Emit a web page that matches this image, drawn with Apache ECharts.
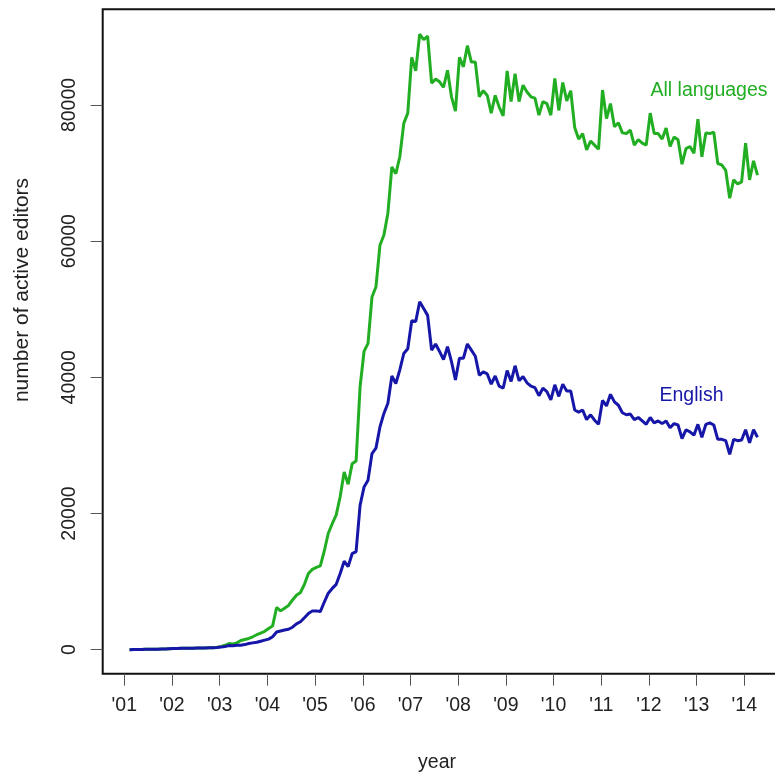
<!DOCTYPE html>
<html><head><meta charset="utf-8">
<script src="https://cdn.jsdelivr.net/npm/echarts@6/dist/echarts.min.js"></script>
<style>html,body{margin:0;padding:0;background:#fff;overflow:hidden}#c{width:800px;height:776px}</style>
</head><body><div id="c"></div>
<script>
// Monthly series, first observation at this decimal year, one point per month
const startYear = 2001.11;
const allLanguages = [
  10,20,30,40,50,60,70,80,100,120,140,160,
  180,200,210,220,230,240,250,260,280,300,350,450,
  650,900,850,1000,1350,1500,1650,1900,2200,2450,2700,3100,
  3500,6200,5700,6100,6500,7300,8000,8400,9600,11200,11800,12100,
  12300,14500,17100,18500,19800,22500,26100,24300,27300,27700,38600,43800,
  45000,51800,53300,59400,60900,64100,70900,69900,72400,77300,78800,87000,
  85000,90400,89600,90100,83200,83800,83400,82600,85100,81200,79100,87000,
  85600,88700,86300,86300,81200,82100,81400,78800,81400,79700,78400,85000,
  80500,84600,80500,82900,81900,81200,81000,78500,80500,80200,78500,83900,
  79200,83300,80600,82100,76700,75000,75800,73400,74700,74100,73500,82200,
  78000,80200,76800,77400,75900,75800,76300,74100,74900,74400,74100,78800,
  75800,75800,75000,76600,73900,75300,74900,71300,73600,73900,72900,77900,
  72400,75900,75800,76000,71400,71200,70400,66300,69000,68400,68700,74400,
  69000,71800,69700
];
const english = [
  10,20,30,40,50,60,70,80,100,120,140,160,
  180,200,210,220,230,240,250,260,280,300,330,380,
  480,600,580,650,650,750,900,1000,1100,1250,1400,1550,
  1900,2600,2750,2900,3000,3300,3800,4100,4700,5300,5700,5700,
  5600,7000,8300,9000,9600,11200,13000,12200,14100,14400,21200,23900,
  24900,28800,29600,32700,34700,36200,40200,39100,41100,43500,44200,48300,
  48200,51100,50100,49100,44000,44900,43800,42600,44500,42300,39600,42800,
  42800,44900,44000,43100,40300,40800,40500,39000,40200,38700,38400,41000,
  39400,41700,39500,40100,39200,38700,38500,37300,38400,37900,36700,38900,
  37200,39000,38000,38000,35200,34900,35200,33800,34500,33700,33100,36600,
  35800,37500,36400,35900,34800,34500,34600,33800,34100,33600,33100,34100,
  33300,33600,33200,33600,32600,33200,33000,31000,32300,32000,31500,33100,
  31200,33100,33300,33000,30900,30900,30700,28700,30900,30700,30800,32300,
  30400,32300,31200
];
const yearTicks = [2001,2002,2003,2004,2005,2006,2007,2008,2009,2010,2011,2012,2013,2014];
const yearLabels = ["'01","'02","'03","'04","'05","'06","'07","'08","'09","'10","'11","'12","'13","'14"];
const valueTicks = [0,20000,40000,60000,80000];
const seriesNames = ['All languages','English'];

const FONT = "'Liberation Sans', Arial, Helvetica, sans-serif";
const GREEN = '#22AE22';
const BLUE = '#1616A8';

const toPairs = arr => arr.map((v, i) => [startYear + i / 12, v]);

const chart = echarts.init(document.getElementById('c'), null, {renderer: 'canvas'});
chart.setOption({
  animation: false,
  backgroundColor: '#fff',
  grid: {
    left: 102.7, top: 9.3, width: 679.3, height: 664.4,
    show: true, borderColor: '#111', borderWidth: 2, backgroundColor: 'transparent',
    containLabel: false
  },
  xAxis: {
    type: 'value', min: 2000.547, max: 2014.79,
    axisLine: {show: false, onZero: false},
    splitLine: {show: false},
    axisTick: {show: true, customValues: yearTicks, length: 12, inside: false,
      lineStyle: {color: '#555', width: 1}},
    axisLabel: {show: true, customValues: yearTicks, margin: 22,
      fontFamily: FONT, fontSize: 19.5, color: '#222',
      formatter: v => yearLabels[yearTicks.indexOf(Math.round(v))]}
  },
  yAxis: {
    type: 'value', min: -3525, max: 94050,
    axisLine: {show: false, onZero: false},
    splitLine: {show: false},
    axisTick: {show: true, customValues: valueTicks, length: 12, inside: false,
      lineStyle: {color: '#555', width: 1}},
    axisLabel: {show: true, customValues: valueTicks, rotate: 90, margin: 23,
      fontFamily: FONT, fontSize: 19.5, color: '#222',
      formatter: v => String(Math.round(v))}
  },
  series: [
    {name: seriesNames[0], type: 'line', data: toPairs(allLanguages), showSymbol: false,
      lineStyle: {color: GREEN, width: 3}, itemStyle: {color: GREEN}, z: 2},
    {name: seriesNames[1], type: 'line', data: toPairs(english), showSymbol: false,
      lineStyle: {color: BLUE, width: 3}, itemStyle: {color: BLUE}, z: 3}
  ],
  graphic: [
    {type: 'text', x: 709, y: 90.5, style: {text: seriesNames[0], fill: GREEN,
      font: "19.5px " + FONT, textAlign: 'center', textVerticalAlign: 'middle'}},
    {type: 'text', x: 691.5, y: 395.8, style: {text: seriesNames[1], fill: BLUE,
      font: "19.5px " + FONT, textAlign: 'center', textVerticalAlign: 'middle'}},
    {type: 'text', x: 437, y: 763, style: {text: 'year', fill: '#222',
      font: "19.5px " + FONT, textAlign: 'center', textVerticalAlign: 'middle'}},
    {type: 'text', x: 22, y: 290, rotation: Math.PI / 2, style: {text: 'number of active editors', fill: '#222',
      font: "21px " + FONT, textAlign: 'center', textVerticalAlign: 'middle'}}
  ]
});
</script></body></html>
